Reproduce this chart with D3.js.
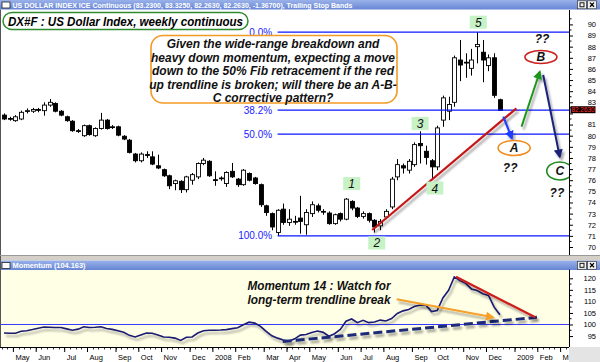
<!DOCTYPE html>
<html>
<head>
<meta charset="utf-8">
<script src="https://cdn.jsdelivr.net/npm/d3@7"></script>
<style>
  body { margin: 0; background: #fff; }
  svg { display: block; font-family: "Liberation Sans", Arial, sans-serif; }
</style>
</head>
<body>
<svg id="chart"></svg>
<script>
// weekly bars, late Apr 2007 .. early Dec 2008
const opens = [
  81.85,81.55,81.35,81.5,82.2,82.2,82.35,82.25,82.75,82.9,
  82.2,81.7,81.3,80.45,80.0,80.9,80.0,80.65,81.4,80.8,
  80.8,79.95,79.6,78.35,77.75,78.3,78.1,77.3,76.95,76.4,
  75.7,75.9,75.15,76.0,76.3,77.5,77.7,76.05,76.2,75.7,
  76.8,76.1,75.6,76.6,76.2,75.6,73.7,73.0,71.3,73.4,
  72.2,72.3,72.6,72.0,73.0,73.7,73.2,73.05,72.1,73.0,
  72.5,74.1,73.5,72.75,73.0,72.4,71.9,72.7,73.6,76.3,
  77.3,76.9,77.4,79.3,78.6,77.75,77.2,81.4,82.2,83.0,
  86.8,86.6,86.05,88.0,87.5,86.3,87.0,83.23];
const highs = [
  82.0,81.7,81.85,82.25,82.45,82.5,82.5,83.0,83.3,83.0,
  82.3,81.8,81.4,80.6,81.0,81.0,80.75,82.05,81.5,80.95,
  80.9,80.05,79.7,78.45,78.5,78.6,78.6,78.3,77.05,76.5,
  76.05,76.0,76.4,76.65,77.6,78.0,77.8,76.8,76.35,76.8,
  77.55,76.2,77.0,76.7,76.3,75.7,73.8,73.1,73.4,73.9,
  73.4,72.8,74.6,73.4,74.1,73.9,73.4,73.2,73.0,73.1,
  74.4,74.2,73.6,73.2,73.1,72.5,72.5,73.4,76.3,77.9,
  77.5,77.9,79.4,80.4,79.1,77.9,80.9,83.6,83.5,87.2,
  88.6,87.4,87.8,89.3,88.6,87.3,87.4,83.325];
const lows = [
  81.4,81.35,81.25,81.4,82.0,82.05,82.1,81.8,82.6,82.1,
  81.75,81.25,80.35,80.25,79.9,80.0,79.9,80.55,80.55,80.6,
  79.95,79.6,78.4,77.6,77.6,78.0,77.35,77.0,76.3,75.2,
  75.1,74.85,74.9,75.6,76.1,77.35,76.3,75.5,75.95,75.4,
  76.2,75.4,75.5,75.9,75.6,73.6,72.8,71.5,71.0,72.0,
  71.9,72.0,71.2,71.1,72.7,73.1,72.9,72.0,72.0,72.3,
  72.4,73.3,72.6,72.55,72.2,71.3,71.5,72.5,73.4,76.0,
  76.6,76.6,77.2,77.5,77.4,76.2,76.9,80.8,81.4,82.6,
  84.9,85.2,85.4,86.5,84.8,85.8,83.4,82.263];
const closes = [
  81.5,81.5,81.7,82.1,82.25,82.35,82.3,82.75,83.0,82.2,
  81.85,81.35,80.45,80.4,80.9,80.1,80.65,81.4,80.65,80.75,
  80.05,79.7,78.5,77.75,78.35,78.25,77.45,77.1,76.4,75.5,
  75.95,75.15,76.3,76.5,77.5,77.8,76.4,76.0,76.15,76.7,
  76.3,75.6,76.9,76.0,75.7,73.8,73.1,71.8,73.3,72.2,
  72.5,72.25,72.3,73.1,73.8,73.3,73.15,72.1,72.9,72.5,
  74.3,73.5,72.75,73.0,72.4,71.8,72.3,73.2,76.1,77.4,
  77.1,77.7,79.2,79.1,78.05,77.2,80.7,83.4,82.8,87.0,
  86.35,86.55,86.8,88.2,86.8,87.0,83.63,82.263];
const momentum = [
  96.3,96.2,96.2,97.1,97.3,97.8,98.4,98.9,98.8,98.7,
  98.7,98.1,97.5,98.0,99.0,98.7,98.8,99.0,98.3,97.9,
  97.3,96.6,95.3,94.6,95.5,96.3,96.2,95.5,94.6,94.5,
  94.1,93.1,94.5,94.6,96.3,97.3,97.5,97.5,97.6,97.8,
  98.2,98.6,99.9,101.0,100.6,99.2,97.0,95.1,94.1,93.3,
  92.8,93.8,95.4,95.7,96.5,97.2,96.6,94.9,96.0,97.9,
  101.4,102.4,100.8,101.8,100.8,101.1,101.9,101.5,102.6,104.8,
  105.9,106.5,107.8,108.4,108.5,105.6,106.0,111.5,114.8,120.6,
  119.0,117.8,115.4,114.7,113.3,112.6,107.5,104.2];

const monthWeeks = [-3,2,6,11,15,20,24,28,33,37,41,46,50,54,59,63,67,72,76,81,85,90,94,98];
const monthLabels = ["Apr","May","Jun","Jul","Aug","Sep","Oct","Nov","Dec","2008","Feb","Mar",
  "Apr","May","Jun","Jul","Aug","Sep","Oct","Nov","Dec","2009","Feb","M"];
const priceTicks = d3.range(70, 91);
const momTicks = [95, 100, 105, 110, 115, 120];

const fibLevels = [89.3, 82.3, 80.15, 71.0];
const fibLabels = ["0.0%", "38.2%", "50.0%", "100.0%"];
const fibStartWeek = 48;

const waveLabels = ["1", "2", "3", "4", "5"];
const waveWeeks = [61, 65.4, 73, 75.6, 83.2];
const wavePrices = [75.7, 70.36, 81.1, 75.3, 90.2];

const calloutLines = [
  "Given the wide-range breakdown and",
  "heavy down momentum, expecting a move",
  "down to the 50% Fib retracement if the red",
  "up trendline is broken; will there be an A-B-",
  "C corrective pattern?"];
const momNoteLines = ["Momentum 14 : Watch for", "long-term trendline break"];

const W = 600, H = 362;
const axisX = 569;

const x = d3.scaleLinear().domain([0, 99]).range([4, 568.3]);
const y = d3.scaleLinear().domain([70, 90]).range([247, 24.4]);
const ym = d3.scaleLinear().domain([100, 120]).range([324.5, 278.3]);

const svg = d3.select("#chart").attr("width", W).attr("height", H);
const defs = svg.append("defs");

const grad = defs.append("linearGradient").attr("id", "barGrad")
  .attr("x1", 0).attr("y1", 0).attr("x2", 0).attr("y2", 1);
grad.append("stop").attr("offset", "0%").attr("stop-color", "#9ab2ea");
grad.append("stop").attr("offset", "100%").attr("stop-color", "#6685d4");

const shadow = defs.append("filter").attr("id", "shadow")
  .attr("filterUnits", "userSpaceOnUse")
  .attr("x", 0).attr("y", 0).attr("width", W).attr("height", H);
shadow.append("feGaussianBlur").attr("in", "SourceAlpha").attr("stdDeviation", 1.2).attr("result", "b");
shadow.append("feOffset").attr("in", "b").attr("dx", 2).attr("dy", 2.5).attr("result", "o");
shadow.append("feComponentTransfer").attr("in", "o").attr("result", "s")
  .append("feFuncA").attr("type", "linear").attr("slope", 0.35);
const fm = shadow.append("feMerge");
fm.append("feMergeNode").attr("in", "s");
fm.append("feMergeNode").attr("in", "SourceGraphic");

function marker(id, color) {
  defs.append("marker").attr("id", id)
    .attr("viewBox", "0 0 10 10").attr("refX", 8).attr("refY", 5)
    .attr("markerUnits", "userSpaceOnUse")
    .attr("markerWidth", 9).attr("markerHeight", 9)
    .attr("orient", "auto")
    .append("path").attr("d", "M0,0L10,5L0,10z").attr("fill", color);
}
marker("arBlue", "#1f3cff");
marker("arGreen", "#1e961e");
marker("arNavy", "#1a2279");
marker("arOrange", "#f5a02a");

defs.append("clipPath").attr("id", "mainClip")
  .append("rect").attr("x", 0).attr("y", 10).attr("width", axisX).attr("height", 246);
defs.append("clipPath").attr("id", "momClip")
  .append("rect").attr("x", 0).attr("y", 269.5).attr("width", axisX).attr("height", 77.5);

// backgrounds
svg.append("rect").attr("width", W).attr("height", H).attr("fill", "#fff");
svg.append("rect").attr("x", 0).attr("y", 256).attr("width", W).attr("height", 4.5).attr("fill", "#d4d0c8");
svg.append("rect").attr("x", 0).attr("y", 269.5).attr("width", axisX).attr("height", 77.5).attr("fill", "#ffffe6");
svg.append("rect").attr("x", axisX).attr("y", 347).attr("width", W - axisX).attr("height", 15).attr("fill", "#e4e4e4");

function titleBar(y0, label, textW) {
  const g = svg.append("g").attr("transform", `translate(0,${y0})`);
  g.append("rect").attr("width", W).attr("height", 9.5).attr("fill", "url(#barGrad)");
  g.append("rect").attr("x", 2).attr("y", 2).attr("width", 8).attr("height", 6)
    .attr("fill", "#fff").attr("stroke", "#222").attr("stroke-width", 0.8);
  g.append("text").attr("x", 12.5).attr("y", 7.8).attr("fill", "#fff")
    .style("font-size", "8px").style("font-weight", "bold")
    .attr("textLength", textW).attr("lengthAdjust", "spacingAndGlyphs")
    .text(label);
  [577.5, 587.5].forEach((bx, k) => {
    g.append("rect").attr("x", bx).attr("y", 0.8).attr("width", 9).attr("height", 8)
      .attr("fill", "#f2f2f2").attr("stroke", "#333").attr("stroke-width", 0.7);
    if (k === 0) {
      g.append("rect").attr("x", bx + 2.5).attr("y", 2.8).attr("width", 4).attr("height", 4)
        .attr("fill", "none").attr("stroke", "#000").attr("stroke-width", 0.9);
    } else {
      g.append("path").attr("d", `M${bx + 2.5},2.6L${bx + 6.5},6.8M${bx + 6.5},2.6L${bx + 2.5},6.8`)
        .attr("stroke", "#000").attr("stroke-width", 1.3);
    }
  });
}
titleBar(0, "US DOLLAR INDEX ICE Continuous (83.2300, 83.3250, 82.2630, 82.2630, -1.36700), Trailing Stop Bands", 340);
titleBar(260.5, "Momentum (104.163)", 73);

// ---------- price pane ----------
const main = svg.append("g").attr("clip-path", "url(#mainClip)");

const bars = d3.range(opens.length);
const px = i => Math.round(x(i)) + 0.5;

main.selectAll(".wick").data(bars).enter().append("line")
  .attr("class", "wick")
  .attr("x1", px).attr("x2", px)
  .attr("y1", i => y(highs[i])).attr("y2", i => y(lows[i]))
  .attr("stroke", "#000").attr("stroke-width", 1);

main.selectAll(".body").data(bars).enter().append("rect")
  .attr("class", "body")
  .attr("x", i => px(i) - 2)
  .attr("y", i => y(Math.max(opens[i], closes[i])))
  .attr("width", 4)
  .attr("height", i => Math.max(0.8, Math.abs(y(opens[i]) - y(closes[i]))))
  .attr("fill", i => closes[i] < opens[i] ? "#000" : "#fff")
  .attr("stroke", "#000").attr("stroke-width", 0.9);

// fib retracement lines
main.selectAll(".fib").data(fibLevels).enter().append("line")
  .attr("x1", x(fibStartWeek)).attr("x2", axisX)
  .attr("y1", d => y(d)).attr("y2", d => y(d))
  .attr("stroke", "#0b16ff").attr("stroke-width", 1.3);
main.selectAll(".fibl").data(fibLevels).enter().append("text")
  .attr("x", x(fibStartWeek) - 5.5).attr("y", d => y(d) + 3.6)
  .attr("text-anchor", "end").attr("fill", "#1a1aff")
  .style("font-size", "10px")
  .text((d, i) => fibLabels[i]);

// red up trendline
main.append("line")
  .attr("x1", x(64.6)).attr("y1", y(71.53)).attr("x2", x(89.9)).attr("y2", y(82.46))
  .attr("stroke", "#c41818").attr("stroke-width", 2.2).attr("filter", "url(#shadow)");

// wave count labels
const waves = main.selectAll(".wave").data(waveLabels).enter().append("g")
  .attr("transform", (d, i) => `translate(${x(waveWeeks[i])},${y(wavePrices[i])})`);
waves.append("rect").attr("x", -8.5).attr("y", -6.5).attr("width", 17).attr("height", 13)
  .attr("fill", "#c6f2c6");
waves.append("text").attr("text-anchor", "middle").attr("y", 4.5)
  .style("font-size", "12px").style("font-style", "italic").attr("fill", "#111")
  .text(d => d);

// A-B-C projection arrows
function arrow(w0, p0, w1, p1, color, mk) {
  main.append("line")
    .attr("x1", x(w0)).attr("y1", y(p0)).attr("x2", x(w1)).attr("y2", y(p1))
    .attr("stroke", color).attr("stroke-width", 2)
    .attr("marker-end", `url(#${mk})`).attr("filter", "url(#shadow)");
}
arrow(87.6, 81.71, 89.1, 79.77, "#1f3cff", "arBlue");
arrow(90.8, 80.81, 94.0, 85.75, "#1e961e", "arGreen");
arrow(94.6, 85.45, 97.5, 78.11, "#1a2279", "arNavy");

function tagEllipse(w, p, rx, ry, color, label) {
  main.append("ellipse").attr("cx", x(w)).attr("cy", y(p)).attr("rx", rx).attr("ry", ry)
    .attr("fill", "#fff").attr("stroke", color).attr("stroke-width", 1.6);
  main.append("text").attr("x", x(w)).attr("y", y(p) + 4.3).attr("text-anchor", "middle")
    .style("font-size", "12px").style("font-weight", "bold").style("font-style", "italic")
    .attr("fill", "#111").text(label);
}
tagEllipse(89.5, 78.9, 16, 7.5, "#f08c1e", "A");
tagEllipse(94.2, 87.07, 16, 6.5, "#cc1f1f", "B");
tagEllipse(97.5, 76.83, 13, 9, "#1e8a1e", "C");

[[88.8, 77.1], [94.4, 88.7], [97.0, 74.9]].forEach(([w, p]) => {
  main.append("text").attr("x", x(w)).attr("y", y(p) + 4.3).attr("text-anchor", "middle")
    .style("font-size", "12px").style("font-weight", "bold").style("font-style", "italic")
    .attr("fill", "#111").text("??");
});

// callout box
const callout = svg.append("g");
callout.append("rect").attr("x", 151).attr("y", 35.5).attr("width", 246).attr("height", 67.5)
  .attr("rx", 12).attr("fill", "#fff").attr("stroke", "#f39a24").attr("stroke-width", 1.6);
callout.selectAll("text").data(calloutLines).enter().append("text")
  .attr("x", 273).attr("y", (d, i) => 48 + i * 13.5)
  .attr("text-anchor", "middle").attr("fill", "#111")
  .style("font-size", "12px").style("font-weight", "bold").style("font-style", "italic")
  .text(d => d);

// instrument legend
svg.append("rect").attr("x", 3).attr("y", 12.5).attr("width", 245).attr("height", 17)
  .attr("rx", 9).attr("fill", "none").attr("stroke", "#2e8b2e").attr("stroke-width", 1.5);
svg.append("text").attr("x", 8).attr("y", 26).attr("fill", "#000")
  .style("font-size", "13px").style("font-weight", "bold").style("font-style", "italic")
  .attr("textLength", 235).attr("lengthAdjust", "spacingAndGlyphs")
  .text("DX#F : US Dollar Index, weekly continuous");

// price axis
const lastClose = closes[closes.length - 1];
const yAxis = svg.append("g").attr("transform", `translate(${axisX},0)`)
  .call(d3.axisRight(y).tickValues(priceTicks).tickSize(4).tickSizeOuter(0));
yAxis.select(".domain").attr("d", "M0.5,10V256");
yAxis.selectAll("text").attr("x", 27).attr("text-anchor", "end")
  .style("font-size", "7.5px").attr("fill", "#000")
  .style("display", d => Math.abs(d - lastClose) < 0.5 ? "none" : null);
yAxis.selectAll("line").attr("stroke", "#000");
svg.append("g").selectAll("line").data(d3.range(70.5, 90.6, 1)).enter().append("line")
  .attr("x1", axisX).attr("x2", axisX + 2.5)
  .attr("y1", d => y(d)).attr("y2", d => y(d)).attr("stroke", "#000");

// last price marker
const lastY = y(lastClose);
svg.append("rect").attr("x", 570.5).attr("y", lastY - 4.3).attr("width", 25).attr("height", 7)
  .attr("fill", "#140000");
svg.append("text").attr("x", 571.5).attr("y", lastY + 1.6).attr("fill", "#ff3030")
  .style("font-size", "6.5px").attr("textLength", 23).attr("lengthAdjust", "spacingAndGlyphs")
  .text("82.2630");

// ---------- momentum pane ----------
const mom = svg.append("g").attr("clip-path", "url(#momClip)");

mom.append("line").attr("x1", 0).attr("x2", axisX)
  .attr("y1", ym(100)).attr("y2", ym(100))
  .attr("stroke", "#3a3aff").attr("stroke-width", 1);

mom.append("path").datum(momentum)
  .attr("d", d3.line().x((d, i) => x(i)).y(d => ym(d)))
  .attr("fill", "none").attr("stroke", "#1a1a72").attr("stroke-width", 1.6)
  .attr("filter", "url(#shadow)");

mom.append("line")
  .attr("x1", x(48.9)).attr("y1", ym(92.6)).attr("x2", x(93.5)).attr("y2", ym(103.1))
  .attr("stroke", "#1c2a78").attr("stroke-width", 3).attr("stroke-dasharray", "9,4")
  .attr("filter", "url(#shadow)");
mom.append("line")
  .attr("x1", x(79.3)).attr("y1", ym(120.7)).attr("x2", x(93.2)).attr("y2", ym(103.1))
  .attr("stroke", "#cc1f1f").attr("stroke-width", 2.2).attr("filter", "url(#shadow)");
mom.append("line")
  .attr("x1", x(68.9)).attr("y1", ym(110.9)).attr("x2", x(85.8)).attr("y2", ym(103.1))
  .attr("stroke", "#f5a02a").attr("stroke-width", 2)
  .attr("marker-end", "url(#arOrange)").attr("filter", "url(#shadow)");

svg.append("g").selectAll("text").data(momNoteLines).enter().append("text")
  .attr("x", 247.5).attr("y", (d, i) => 290 + i * 14)
  .attr("fill", "#111")
  .style("font-size", "12px").style("font-weight", "bold").style("font-style", "italic")
  .attr("textLength", 143).attr("lengthAdjust", "spacingAndGlyphs")
  .text(d => d);

const mAxis = svg.append("g").attr("transform", `translate(${axisX},0)`)
  .call(d3.axisRight(ym).tickValues(momTicks).tickSize(4).tickSizeOuter(0));
mAxis.select(".domain").attr("d", "M0.5,269.5V347");
mAxis.selectAll("text").attr("x", 27).attr("text-anchor", "end")
  .style("font-size", "7.5px").attr("fill", "#000");
svg.append("g").selectAll("line").data([97.5, 102.5, 107.5, 112.5, 117.5]).enter().append("line")
  .attr("x1", axisX).attr("x2", axisX + 2.5)
  .attr("y1", d => ym(d)).attr("y2", d => ym(d)).attr("stroke", "#000");

// time axis
const xAxis = svg.append("g").attr("transform", "translate(0,347)")
  .call(d3.axisBottom(x).tickValues(monthWeeks)
    .tickFormat((d, i) => monthLabels[i]).tickSize(5).tickSizeOuter(0));
xAxis.select(".domain").attr("d", `M0,0.5H${axisX}`);
xAxis.selectAll(".tick line").attr("transform", "translate(-2.5,0)");
xAxis.selectAll("text").attr("text-anchor", "start").attr("x", -0.5)
  .style("font-size", "7.5px").attr("fill", "#000");
svg.append("g").selectAll("line").data(d3.range(-1, 100)).enter().append("line")
  .attr("x1", d => Math.round(x(d) - 2.5) + 0.5).attr("x2", d => Math.round(x(d) - 2.5) + 0.5)
  .attr("y1", 347).attr("y2", 349.5).attr("stroke", "#000").attr("stroke-width", 0.8);

// frame lines
svg.append("line").attr("x1", 0.5).attr("x2", 0.5).attr("y1", 9.5).attr("y2", 347)
  .attr("stroke", "#555");
svg.append("line").attr("x1", 0).attr("x2", W).attr("y1", 255.5).attr("y2", 255.5)
  .attr("stroke", "#999");
</script>
</body>
</html>
